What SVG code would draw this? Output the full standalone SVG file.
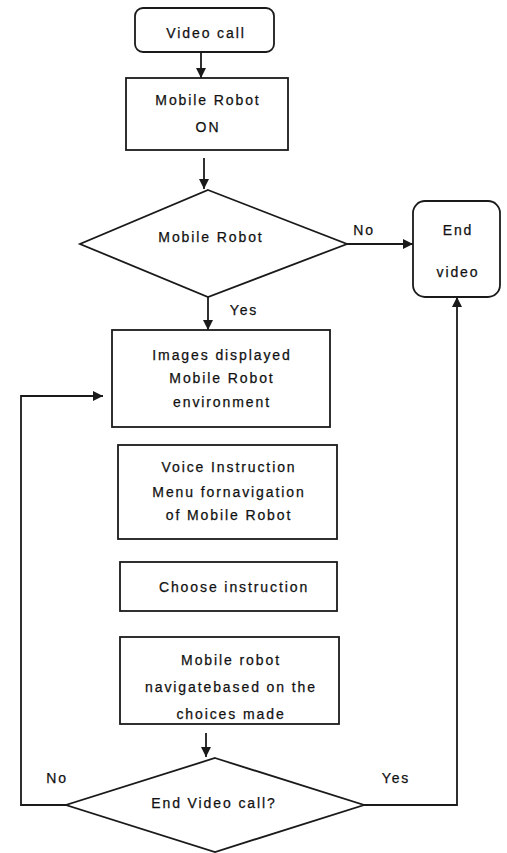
<svg xmlns="http://www.w3.org/2000/svg" width="507" height="853" viewBox="0 0 507 853">
<defs>
<marker id="ah" viewBox="0 0 10 10" refX="10" refY="5" markerWidth="10" markerHeight="10" markerUnits="userSpaceOnUse" orient="auto">
<path d="M0,0 L10,5 L0,10 Z" fill="#1a1a1a"/>
</marker>
</defs>
<style>
.s{fill:#fff;stroke:#1a1a1a;stroke-width:1.8}
.c{fill:none;stroke:#1a1a1a;stroke-width:1.8}
text{font-family:"Liberation Sans",Arial,sans-serif;font-size:14px;fill:#111;stroke:#111;stroke-width:0.25;letter-spacing:1.9px}
.m{text-anchor:middle}
</style>
<rect width="507" height="853" fill="#fff"/>
<g id="connectors">
<line class="c" x1="201" y1="52" x2="201" y2="78" marker-end="url(#ah)"/>
<line class="c" x1="204" y1="158" x2="204" y2="189" marker-end="url(#ah)"/>
<line class="c" x1="347" y1="244" x2="413" y2="244" marker-end="url(#ah)"/>
<line class="c" x1="208" y1="297" x2="208" y2="330" marker-end="url(#ah)"/>
<line class="c" x1="206" y1="733" x2="206" y2="757" marker-end="url(#ah)"/>
<polyline class="c" points="66,805 21,805 21,396 103,396" marker-end="url(#ah)"/>
<polyline class="c" points="364,805 457,805 457,297" marker-end="url(#ah)"/>
<text x="364" y="235" class="m">No</text>
<text x="244" y="315" class="m">Yes</text>
<text x="57" y="783" class="m">No</text>
<text x="396" y="783" class="m">Yes</text>
</g>
<g id="video-call">
<rect class="s" x="135" y="8" width="139" height="44" rx="8"/>
<text x="206" y="38" class="m">Video call</text>
</g>
<g id="robot-on">
<rect class="s" x="126" y="78" width="162" height="72"/>
<text x="208" y="105" class="m">Mobile Robot</text>
<text x="208" y="132" class="m">ON</text>
</g>
<g id="decision-robot">
<polygon class="s" points="208,190 347,244 208,297 80,244"/>
<text x="211" y="242" class="m">Mobile Robot</text>
</g>
<g id="end-video">
<rect class="s" x="413" y="201" width="87" height="96" rx="12"/>
<text x="458" y="235" class="m">End</text>
<text x="458" y="277" class="m">video</text>
</g>
<g id="images">
<rect class="s" x="112" y="330" width="218" height="97"/>
<text x="222" y="360" class="m">Images displayed</text>
<text x="222" y="383" class="m">Mobile Robot</text>
<text x="222" y="407" class="m">environment</text>
</g>
<g id="voice">
<rect class="s" x="118" y="445" width="219" height="94"/>
<text x="229" y="472" class="m">Voice Instruction</text>
<text x="229" y="497" class="m">Menu fornavigation</text>
<text x="229" y="520" class="m">of Mobile Robot</text>
</g>
<g id="choose">
<rect class="s" x="120" y="562" width="217" height="49"/>
<text x="234" y="592" class="m">Choose instruction</text>
</g>
<g id="navigate">
<rect class="s" x="120" y="637" width="219" height="87"/>
<text x="231" y="665" class="m">Mobile robot</text>
<text x="231" y="692" class="m">navigatebased on the</text>
<text x="231" y="719" class="m">choices made</text>
</g>
<g id="decision-end">
<polygon class="s" points="215,758 364,805 215,852 66,805"/>
<text x="214" y="808" class="m">End Video call?</text>
</g>
</svg>
